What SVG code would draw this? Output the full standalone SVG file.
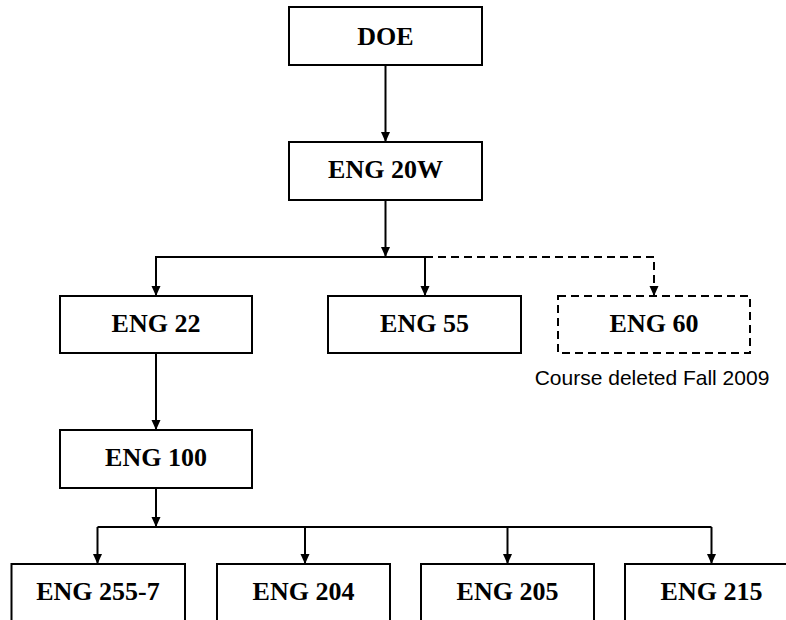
<svg xmlns="http://www.w3.org/2000/svg" width="786" height="620" viewBox="0 0 786 620">
  <style>
    .box { fill: #ffffff; stroke: #000000; stroke-width: 2; }
    .dbox { fill: #ffffff; stroke: #000000; stroke-width: 2; stroke-dasharray: 8 5; }
    .lbl { font-family: "Liberation Serif", "Times New Roman", serif; font-weight: bold; font-size: 26px; fill: #000000; text-anchor: middle; }
    .note { font-family: "Liberation Sans", Arial, sans-serif; font-size: 21px; fill: #000000; text-anchor: middle; }
    .ln { fill: none; stroke: #000000; stroke-width: 2; }
    .dln { fill: none; stroke: #000000; stroke-width: 2; stroke-dasharray: 8 5; }
  </style>
  <defs>
    <marker id="arrow" markerUnits="userSpaceOnUse" markerWidth="10" markerHeight="10" viewBox="0 0 10 10" refX="10" refY="5" orient="auto">
      <path d="M0,0.5 L10,5 L0,9.5 Z" fill="#000000"/>
    </marker>
  </defs>

  <rect width="786" height="620" fill="#ffffff"/>

  <g id="connectors">
    <line class="ln" x1="385.5" y1="65" x2="385.5" y2="142" marker-end="url(#arrow)"/>
    <line class="ln" x1="385.5" y1="200" x2="385.5" y2="257" marker-end="url(#arrow)"/>
    <polyline class="ln" points="425,257 156,257 156,296" marker-end="url(#arrow)"/>
    <line class="ln" x1="425" y1="257" x2="425" y2="296" marker-end="url(#arrow)"/>
    <polyline class="dln" points="425,257 654,257 654,296" marker-end="url(#arrow)"/>
    <line class="ln" x1="156" y1="353" x2="156" y2="430" marker-end="url(#arrow)"/>
    <line class="ln" x1="156" y1="488" x2="156" y2="527" marker-end="url(#arrow)"/>
    <line class="ln" x1="97.5" y1="527" x2="711.5" y2="527"/>
    <line class="ln" x1="97.5" y1="527" x2="97.5" y2="564" marker-end="url(#arrow)"/>
    <line class="ln" x1="305" y1="527" x2="305" y2="564" marker-end="url(#arrow)"/>
    <line class="ln" x1="507.5" y1="527" x2="507.5" y2="564" marker-end="url(#arrow)"/>
    <line class="ln" x1="711.5" y1="527" x2="711.5" y2="564" marker-end="url(#arrow)"/>
  </g>

  <g id="doe">
    <rect class="box" x="289" y="7" width="193" height="58"/>
    <text class="lbl" x="385.5" y="44.5">DOE</text>
  </g>
  <g id="eng20w">
    <rect class="box" x="289" y="142" width="193" height="58"/>
    <text class="lbl" x="385.5" y="178">ENG 20W</text>
  </g>
  <g id="eng22">
    <rect class="box" x="60" y="296" width="192" height="57"/>
    <text class="lbl" x="156" y="332">ENG 22</text>
  </g>
  <g id="eng55">
    <rect class="box" x="328" y="296" width="193" height="57"/>
    <text class="lbl" x="424.5" y="332">ENG 55</text>
  </g>
  <g id="eng60">
    <rect class="dbox" x="558" y="296" width="192" height="57"/>
    <text class="lbl" x="654" y="332">ENG 60</text>
    <text class="note" x="652" y="385">Course deleted Fall 2009</text>
  </g>
  <g id="eng100">
    <rect class="box" x="60" y="430" width="192" height="58"/>
    <text class="lbl" x="156" y="466">ENG 100</text>
  </g>
  <g id="eng255-7">
    <rect class="box" x="11.5" y="564" width="173.5" height="60"/>
    <text class="lbl" x="98" y="600">ENG 255-7</text>
  </g>
  <g id="eng204">
    <rect class="box" x="217" y="564" width="173" height="60"/>
    <text class="lbl" x="303.5" y="600">ENG 204</text>
  </g>
  <g id="eng205">
    <rect class="box" x="421" y="564" width="173" height="60"/>
    <text class="lbl" x="507.5" y="600">ENG 205</text>
  </g>
  <g id="eng215">
    <rect class="box" x="625" y="564" width="173" height="60"/>
    <text class="lbl" x="711.5" y="600">ENG 215</text>
  </g>
</svg>
